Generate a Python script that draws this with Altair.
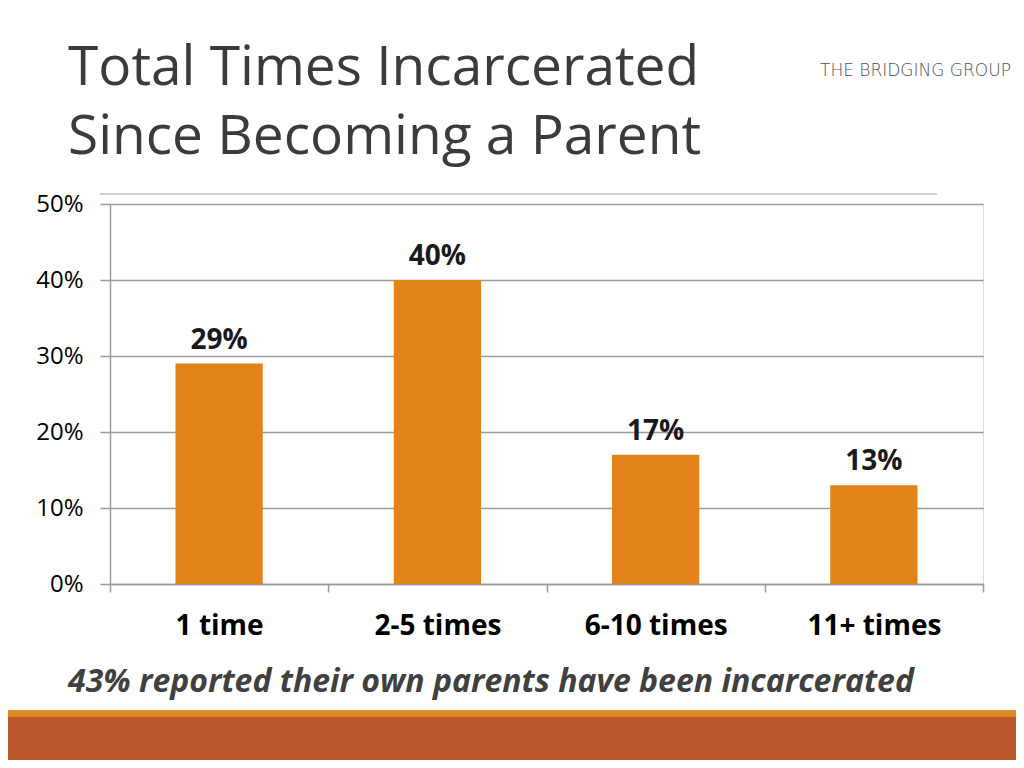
import altair as alt
import pandas as pd

categories = ["1 time", "2-5 times", "6-10 times", "11+ times"]
values = [29, 40, 17, 13]
labels = ["29%", "40%", "17%", "13%"]
title_lines = ["Total Times Incarcerated", "Since Becoming a Parent"]
footnote = "43% reported their own parents have been incarcerated"
logo = "THE BRIDGING GROUP"

df = pd.DataFrame({"cat": categories, "val": values, "lab": labels})
one = pd.DataFrame({"a": [0]})

FONT = "Open Sans"
BAR = "#E3841A"

W, H = 873, 380

x_enc = alt.X("cat:N", sort=categories, title=None,
              scale=alt.Scale(paddingInner=0, paddingOuter=0),
              axis=alt.Axis(labelAngle=0, labelFont=FONT, labelFontSize=28,
                            labelFontWeight="bold", labelColor="#000000",
                            labelPadding=20, tickBand="extent", tickSize=8,
                            tickColor="#9a9a9a", domainColor="#9a9a9a",
                            domainWidth=1.5, tickWidth=1.5, grid=False))
y_enc = alt.Y("val:Q", title=None,
              scale=alt.Scale(domain=[0, 50], nice=False),
              axis=alt.Axis(values=[0, 10, 20, 30, 40, 50],
                            labelExpr="datum.value + '%'",
                            labelFont=FONT, labelFontSize=24, labelColor="#000000",
                            labelPadding=17, tickSize=10, tickColor="#9a9a9a",
                            tickWidth=1.5, domainColor="#9a9a9a", domainWidth=1.5,
                            grid=True, gridColor="#9a9a9a", gridWidth=1.5))

bars = alt.Chart(df).mark_bar(color=BAR, width=alt.RelativeBandSize(0.4)).encode(
    x=x_enc, y=y_enc)

bar_text = alt.Chart(df).mark_text(font=FONT, fontSize=28, fontWeight="bold",
                                   color="#1a1a1a", baseline="bottom", dy=-9).encode(
    x=alt.X("cat:N", sort=categories), y="val:Q", text="lab:N")

base = alt.Chart(one)

title1 = base.mark_text(text=title_lines[0], font=FONT, fontSize=55, color="#3b3b3b",
                        align="left", baseline="alphabetic").encode(
    x=alt.value(-42), y=alt.value(-119))
title2 = base.mark_text(text=title_lines[1], font=FONT, fontSize=55, color="#3b3b3b",
                        align="left", baseline="alphabetic").encode(
    x=alt.value(-42), y=alt.value(-50))

logo_text = base.mark_text(text=logo, font="DejaVu Sans", fontSize=17, color="#4a4f5a",
                           fontWeight=300, align="left", baseline="alphabetic").encode(
    x=alt.value(710), y=alt.value(-128))

top_line = base.mark_rule(color="#a0a0a0", strokeWidth=1.2).encode(
    x=alt.value(-10), x2=alt.value(827), y=alt.value(-10))

foot = base.mark_text(text=footnote, font=FONT, fontSize=32, fontWeight="bold",
                      fontStyle="italic", color="#404040", align="left",
                      baseline="alphabetic").encode(
    x=alt.value(-42), y=alt.value(488))

orange_band = base.mark_rect(color="#E08A25").encode(
    x=alt.value(-102), x2=alt.value(906), y=alt.value(506), y2=alt.value(513))
rust_band = base.mark_rect(color="#BC582C").encode(
    x=alt.value(-102), x2=alt.value(906), y=alt.value(513), y2=alt.value(556))

chart = alt.layer(
    bars, bar_text, title1, title2, logo_text, top_line, foot, orange_band, rust_band
).properties(
    width=W, height=H,
    autosize=alt.AutoSizeParams(type="none"),
    padding={"left": 102, "top": 196, "right": 33, "bottom": 176},
).configure_view(stroke=None).configure(background="#ffffff")

chart.save("out.html", embed_options={"renderer": "svg", "actions": False})
